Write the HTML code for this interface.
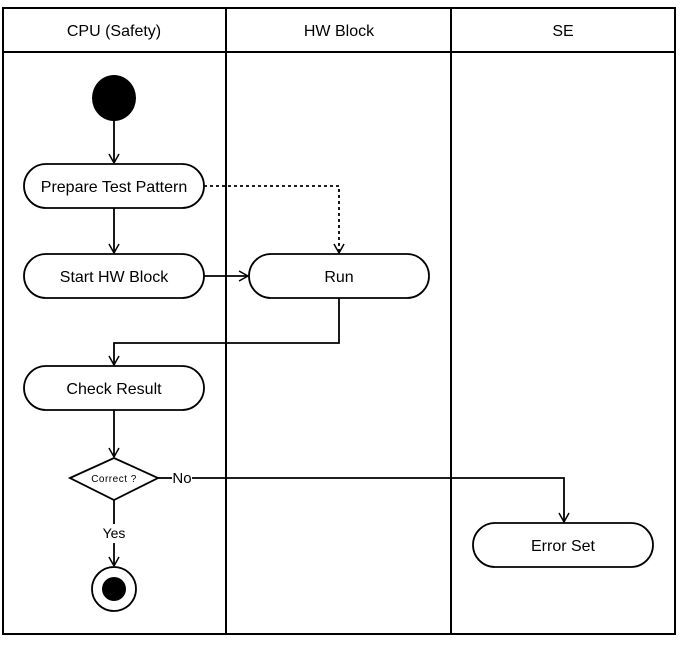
<!DOCTYPE html>
<html><head><style>body{margin:0;background:#fff}svg{display:block}</style></head><body>
<svg width="682" height="649" viewBox="0 0 682 649" xmlns="http://www.w3.org/2000/svg" font-family="Liberation Sans, sans-serif">
<defs><marker id="a" markerWidth="12" markerHeight="12" refX="10" refY="6" orient="auto" markerUnits="userSpaceOnUse"><path d="M1,1 L10,6 L1,11" fill="none" stroke="#000" stroke-width="1.5"/></marker></defs>
<g stroke="#000" stroke-width="2" fill="none">
<rect x="3" y="8" width="672" height="626"/>
<line x1="3" y1="52" x2="675" y2="52"/>
<line x1="226" y1="8" x2="226" y2="634"/>
<line x1="451" y1="8" x2="451" y2="634"/>
</g>
<g font-size="16" text-anchor="middle" fill="#000">
<text x="114" y="36">CPU (Safety)</text>
<text x="339" y="36">HW Block</text>
<text x="563" y="36">SE</text>
</g>
<ellipse cx="114" cy="98" rx="22" ry="23" fill="#000"/>
<g stroke="#000" stroke-width="1.8" fill="none">
<line x1="114" y1="120" x2="114" y2="163" marker-end="url(#a)"/>
<line x1="114" y1="208" x2="114" y2="253" marker-end="url(#a)"/>
<polyline points="204,186 339,186 339,253" stroke-dasharray="3,3" marker-end="url(#a)"/>
<line x1="204" y1="276" x2="248" y2="276" marker-end="url(#a)"/>
<polyline points="339,298 339,343 114,343 114,365" marker-end="url(#a)"/>
<line x1="114" y1="410" x2="114" y2="457" marker-end="url(#a)"/>
<line x1="158" y1="478" x2="172" y2="478"/>
<polyline points="192,478 564,478 564,522" marker-end="url(#a)"/>
<line x1="114" y1="500" x2="114" y2="524"/>
<line x1="114" y1="543" x2="114" y2="566" marker-end="url(#a)"/>
</g>
<g stroke="#000" stroke-width="1.8" fill="#fff">
<rect x="24" y="164" width="180" height="44" rx="22"/>
<rect x="24" y="254" width="180" height="44" rx="22"/>
<rect x="249" y="254" width="180" height="44" rx="22"/>
<rect x="24" y="366" width="180" height="44" rx="22"/>
<rect x="473" y="523" width="180" height="44" rx="22"/>
<polygon points="70,478 114,458 158,478 114,500"/>
<circle cx="114" cy="589" r="22"/>
</g>
<circle cx="114" cy="589" r="12" fill="#000"/>
<g font-size="16" text-anchor="middle" fill="#000">
<text x="114" y="192">Prepare Test Pattern</text>
<text x="114" y="282">Start HW Block</text>
<text x="339" y="282">Run</text>
<text x="114" y="394">Check Result</text>
<text x="563" y="551">Error Set</text>
<text x="182" y="483" font-size="15">No</text>
<text x="114" y="538" font-size="14">Yes</text>
<text x="114" y="482" font-size="10" letter-spacing="0.5">Correct ?</text>
</g>
</svg>
</body></html>
